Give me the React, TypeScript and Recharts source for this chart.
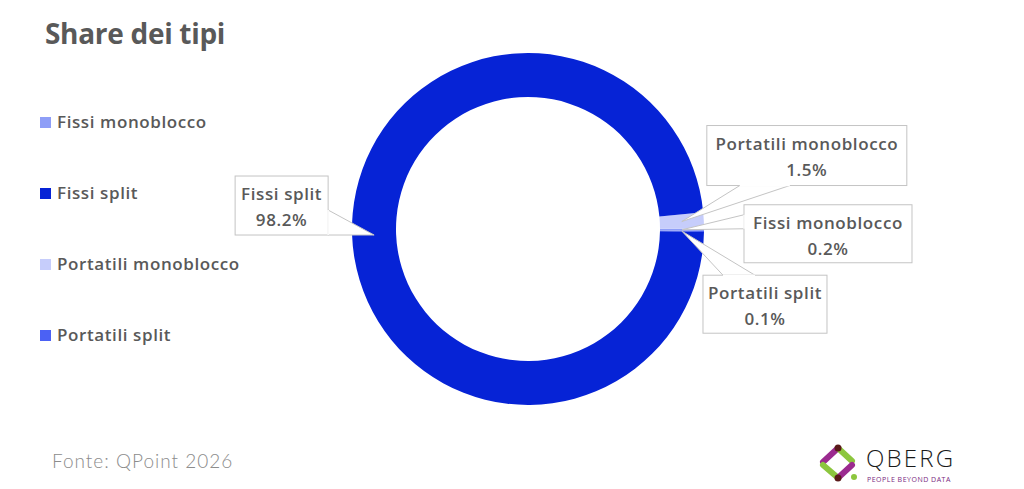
import React from "react"
import { PieChart, Pie, Cell } from "recharts"

// legend order (as in the source)
const legendNames = ["Fissi monoblocco", "Fissi split", "Portatili monoblocco", "Portatili split"]
const legendColors = ["#8e9ef7", "#0623d6", "#c6cdfb", "#4b61f4"]

// slice order around the ring, counter-clockwise from 3 o'clock
const sliceNames = ["Portatili split", "Fissi monoblocco", "Portatili monoblocco", "Fissi split"]
const sliceValues = [0.1, 0.2, 1.5, 98.2]

const dati = sliceNames.map((nome, i) => ({
  nome,
  valore: sliceValues[i],
  colore: legendColors[legendNames.indexOf(nome)],
}))

// callout boxes: offset of the box from the pointer tip, box size, and the pointer base (relative to box)
const callouts = [
  { dx: 21, dy: 44, w: 124, h: 58, base: [[20, 0], [52, 0]] },
  { dx: 62, dy: -25, w: 168, h: 58, base: [[0, 10], [0, 24]] },
  { dx: 25, dy: -96, w: 200, h: 60, base: [[33, 60], [83, 60]] },
  { dx: -139, dy: -59, w: 93, h: 59, base: [[93, 34], [93, 59]] },
]

const TESTO = "#595959"
const FONT = "'Open Sans', 'Noto Sans', sans-serif"

const RAD = Math.PI / 180

const Callout = (props: any) => {
  const { cx, cy, midAngle, innerRadius, outerRadius, index } = props
  const r = (innerRadius + outerRadius) / 2
  const tx = cx + r * Math.cos(-midAngle * RAD)
  const ty = cy + r * Math.sin(-midAngle * RAD)
  const c = callouts[index]
  const bx = tx + c.dx
  const by = ty + c.dy
  const d = dati[index]
  const pts = `${tx},${ty} ${bx + c.base[0][0]},${by + c.base[0][1]} ${bx + c.base[1][0]},${by + c.base[1][1]}`
  return (
    <g>
      <polygon points={pts} fill="#ffffff" stroke="#c4c4c4" strokeWidth={1} />
      <rect x={bx} y={by} width={c.w} height={c.h} fill="#ffffff" stroke="#c4c4c4" strokeWidth={1} />
      <line x1={bx + c.base[0][0]} y1={by + c.base[0][1]} x2={bx + c.base[1][0]} y2={by + c.base[1][1]} stroke="#ffffff" strokeWidth={1.5} />
      <text x={bx + c.w / 2} y={by + 24} textAnchor="middle" fill={TESTO} fontSize={17} fontWeight={600} letterSpacing={0.6} fontFamily={FONT}>
        {d.nome}
      </text>
      <text x={bx + c.w / 2} y={by + 50} textAnchor="middle" fill={TESTO} fontSize={17} fontWeight={600} letterSpacing={0.6} fontFamily={FONT}>
        {d.valore.toFixed(1)}%
      </text>
    </g>
  )
}

const Decorazioni = () => (
  <svg width={1024} height={489} style={{ position: "absolute", left: 0, top: 0 }}>
    <text x={45} y={44} fontFamily={FONT} fontSize={28} fontWeight={700} fill={TESTO} letterSpacing={-0.3}>
      Share dei tipi
    </text>
    {legendNames.map((nome, i) => (
      <g key={nome}>
        <rect x={40} y={117 + i * 71} width={11} height={11} fill={legendColors[i]} />
        <text x={57} y={128 + i * 71} fontFamily={FONT} fontSize={17} fontWeight={600} fill={TESTO} letterSpacing={0.6}>
          {nome}
        </text>
      </g>
    ))}
    <text x={52} y={468} fontFamily="Lato, sans-serif" fontWeight={300} fontSize={19} fill="#8c8c8c" letterSpacing={1}>
      Fonte: QPoint 2026
    </text>
    <g transform="translate(812,440)">
      <g strokeLinecap="round" strokeWidth={6}>
        <line x1={11} y1={22} x2={25} y2={9} stroke="#9b2a8f" />
        <line x1={27} y1={9} x2={40} y2={21} stroke="#8cc63e" />
        <line x1={11} y1={25} x2={25} y2={37} stroke="#8cc63e" />
        <line x1={27} y1={37} x2={40} y2={25} stroke="#9b2a8f" />
      </g>
      <circle cx={26} cy={8} r={3.5} fill="#5a1a1a" />
      <circle cx={26} cy={38} r={3.5} fill="#5a1a1a" />
      <circle cx={42} cy={37} r={3} fill="#8cc63e" />
      <text x={54} y={27} fontSize={24} fontWeight={300} fontFamily={FONT} fill="#1a1a1a" letterSpacing={2.2}>
        QBERG
      </text>
      <text x={55} y={42} fontSize={7} fontFamily={FONT} fill="#7a2a80" letterSpacing={0.5}>
        PEOPLE BEYOND DATA
      </text>
    </g>
  </svg>
)

export default function App() {
  return (
    <div style={{ position: "absolute", left: 0, top: 0, width: 1024, height: 489, background: "#ffffff", overflow: "hidden" }}>
      <Decorazioni />
      <div style={{ position: "absolute", left: 0, top: 0 }}>
        <PieChart width={1024} height={489} margin={{ top: 0, right: 0, bottom: 0, left: 0 }}>
          <Pie
            data={dati}
            dataKey="valore"
            nameKey="nome"
            cx={528}
            cy={229}
            innerRadius={132}
            outerRadius={176}
            startAngle={-1}
            endAngle={359}
            stroke="none"
            label={Callout}
            labelLine={false}
            isAnimationActive={false}
          >
            {dati.map((d) => (
              <Cell key={d.nome} fill={d.colore} />
            ))}
          </Pie>
        </PieChart>
      </div>
    </div>
  )
}
